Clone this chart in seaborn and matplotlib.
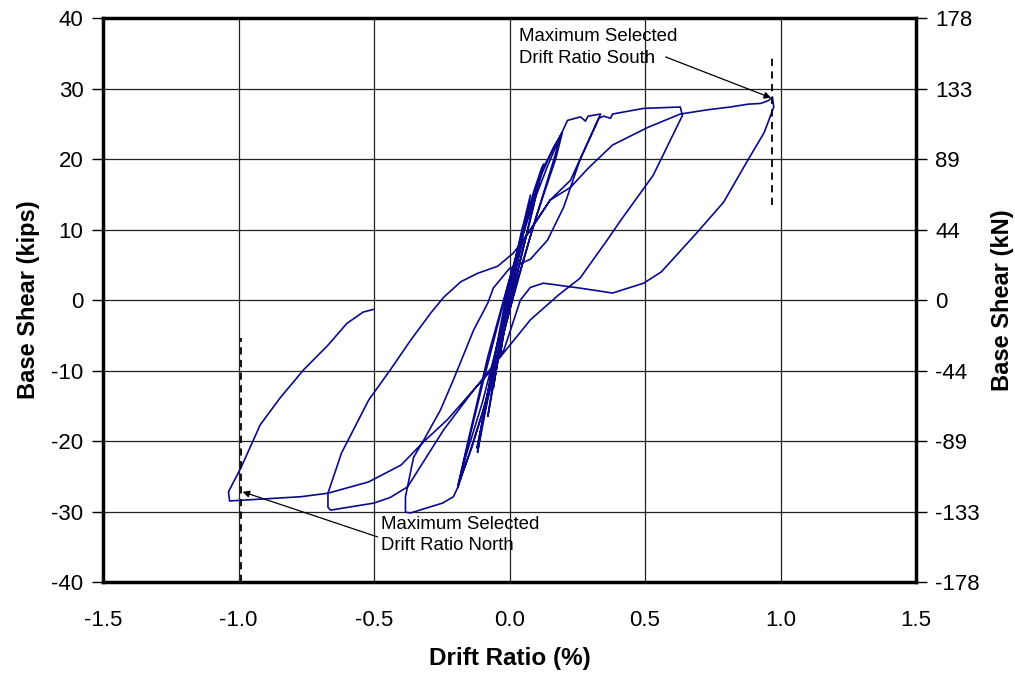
import matplotlib
matplotlib.use("Agg")
import matplotlib.pyplot as plt
import seaborn as sns
import pandas as pd

# Hysteresis response, traced in order of loading (drift in %, base shear in kips)

# small elastic cycles
elastic_drift = [0.0, 0.03, 0.0, -0.035, -0.01,
                 0.02, 0.05, 0.01, -0.03, -0.06, -0.03,
                 0.0, 0.04, 0.077, 0.05, 0.0, -0.04, -0.08, -0.05,
                 0.0, 0.05, 0.09, 0.12, 0.09, 0.03, -0.03, -0.08, -0.118, -0.09,
                 -0.02, 0.04, 0.09, 0.125, 0.085, 0.02, -0.04, -0.09, -0.12, -0.085,
                 -0.01, 0.06, 0.12, 0.16, 0.195, 0.17, 0.1, 0.03, -0.04, -0.1, -0.15, -0.19, -0.16,
                 -0.1, -0.02, 0.06, 0.12, 0.19, 0.16, 0.08, 0.0, -0.08, -0.14, -0.19, -0.15, -0.08]
elastic_shear = [0.0, 6.0, 1.0, -8.0, -2.0,
                 4.0, 10.5, 2.5, -5.0, -12.5, -5.5,
                 2.0, 9.0, 14.9, 9.5, 0.0, -8.0, -16.5, -9.0,
                 1.0, 10.0, 15.5, 18.9, 13.5, 4.0, -6.0, -14.0, -21.6, -15.0,
                 -1.0, 8.5, 15.0, 19.3, 13.0, 2.5, -7.0, -15.5, -21.0, -14.0,
                 0.0, 11.0, 18.0, 21.5, 23.8, 20.0, 12.0, 3.0, -7.5, -16.0, -22.0, -26.5, -21.5,
                 -12.0, 0.0, 11.5, 18.5, 23.5, 19.5, 9.5, -1.5, -13.5, -21.0, -26.2, -19.5, -8.0]

# cycle to about 0.35 % drift
cycle35_drift = [0.0, 0.08, 0.14, 0.19, 0.214, 0.262, 0.28, 0.29, 0.336,
                 0.225, 0.15, 0.05, -0.03, -0.1, -0.16, -0.19, -0.207, -0.247, -0.365, -0.384,
                 -0.384, -0.354, -0.317, -0.255, -0.207, -0.133, -0.08, -0.06, 0.0, 0.077,
                 0.14, 0.2, 0.26, 0.33]
cycle35_shear = [3.0, 13.0, 19.0, 23.5, 25.5, 26.0, 25.4, 26.1, 26.4,
                 17.0, 14.2, 8.5, -4.0, -14.5, -22.0, -26.5, -27.9, -28.8, -30.2, -30.1,
                 -27.9, -22.3, -19.9, -15.6, -11.3, -4.3, -0.4, 1.7, 4.5, 5.8,
                 8.5, 13.2, 19.9, 25.8]

# cycle to about 0.63 % drift
cycle63_drift = [0.347, 0.373, 0.38, 0.494, 0.63, 0.638,
                 0.53, 0.41, 0.36, 0.26, 0.18, 0.077, -0.022, -0.133, -0.243, -0.376,
                 -0.44, -0.5, -0.66, -0.67, -0.67,
                 -0.62, -0.52, -0.44, -0.365, -0.29, -0.243, -0.18, -0.118, -0.044, 0.015,
                 0.077, 0.15, 0.225, 0.29, 0.38, 0.51, 0.63]
cycle63_shear = [26.1, 25.8, 26.4, 27.2, 27.4, 26.2,
                 17.7, 11.3, 8.5, 3.1, 0.7, -2.8, -7.5, -12.8, -18.4, -26.5,
                 -28.0, -28.8, -29.8, -29.4, -27.4,
                 -21.7, -14.2, -9.9, -5.7, -1.8, 0.4, 2.6, 3.8, 4.8, 6.7,
                 9.9, 14.2, 16.0, 18.7, 22.0, 24.5, 26.4]

# cycle to about 1.0 % drift and final unloading
cycle100_drift = [0.73, 0.815, 0.88, 0.926, 0.955, 0.97, 0.975,
                  0.94, 0.88, 0.79, 0.69, 0.56, 0.495, 0.38, 0.26, 0.125, 0.077, 0.04,
                  0.01, -0.02, -0.08, -0.15, -0.23, -0.317, -0.4, -0.52, -0.67, -0.77,
                  -0.99, -1.033, -1.037,
                  -0.99, -0.92, -0.845, -0.76, -0.67, -0.6, -0.54, -0.5]
cycle100_shear = [27.0, 27.4, 27.8, 27.9, 28.3, 28.8, 27.4,
                  23.8, 19.9, 13.9, 9.5, 4.0, 2.4, 1.0, 1.7, 2.4, 1.8, 0.0,
                  -3.5, -7.0, -10.5, -13.5, -17.0, -20.1, -23.4, -25.8, -27.4, -27.9,
                  -28.4, -28.5, -27.2,
                  -23.7, -17.7, -13.8, -9.9, -6.4, -3.3, -1.7, -1.3]

kips_ticks = [-40, -30, -20, -10, 0, 10, 20, 30, 40]
kn_labels = ["-178", "-133", "-89", "-44", "0", "44", "89", "133", "178"]
drift_ticks = [-1.5, -1.0, -0.5, 0.0, 0.5, 1.0, 1.5]

south_drift = 0.97
south_span = [13.5, 34.5]
north_drift = -0.99
north_span = [-40.0, -5.4]

drift = elastic_drift + cycle35_drift + cycle63_drift + cycle100_drift
shear = elastic_shear + cycle35_shear + cycle63_shear + cycle100_shear
df = pd.DataFrame({"drift": drift, "shear": shear, "step": range(len(drift))})

sns.set_theme(style="white")
plt.rcParams["font.family"] = ["Liberation Sans", "DejaVu Sans"]
plt.rcParams["axes.unicode_minus"] = False

fig = plt.figure(figsize=(10.15, 6.74), dpi=100)
ax = fig.add_axes([0.1015, 0.1365, 0.801, 0.8365])

sns.lineplot(data=df, x="drift", y="shear", sort=False, estimator=None,
             color="#0a0a8a", linewidth=1.2, ax=ax)

ax.set_xlim(-1.5, 1.5)
ax.set_ylim(-40, 40)
ax.set_xticks(drift_ticks)
ax.set_xticklabels([f"{t:.1f}" for t in drift_ticks])
ax.set_yticks(kips_ticks)
ax.grid(True, color="#222222", linewidth=0.9)
ax.set_axisbelow(True)

for s in ax.spines.values():
    s.set_color("black")
    s.set_linewidth(2.5)

ax.tick_params(axis="both", direction="out", length=8, width=1, color="black",
               labelsize=16, labelcolor="black")
ax.tick_params(axis="x", pad=12)
ax.tick_params(axis="y", pad=6)
ax.set_xlabel("Drift Ratio (%)", fontsize=17.5, fontweight="bold", labelpad=12, color="black")
ax.set_ylabel("Base Shear (kips)", fontsize=17, fontweight="bold", labelpad=8, color="black")

ax2 = ax.twinx()
ax2.set_ylim(-40, 40)
ax2.set_yticks(kips_ticks)
ax2.set_yticklabels(kn_labels)
ax2.tick_params(axis="y", direction="out", length=8, width=1, color="black",
                labelsize=16, labelcolor="black", pad=6)
ax2.set_ylabel("Base Shear (kN)", fontsize=17, fontweight="bold", labelpad=8, color="black")
for s in ax2.spines.values():
    s.set_visible(False)
ax2.grid(False)

# selected drift markers
ax.plot([south_drift, south_drift], south_span, color="black", linewidth=1.3,
        linestyle=(0, (4, 3)))
ax.plot([north_drift, north_drift], north_span, color="black", linewidth=1.3,
        linestyle=(0, (4, 3)))

arrow = dict(arrowstyle="-|>", color="black", lw=0.9, mutation_scale=10,
             shrinkA=0, shrinkB=0)
ax.text(0.035, 38.6, "Maximum Selected\nDrift Ratio South", fontsize=13.4,
        ha="left", va="top", color="black", linespacing=1.35)
ax.annotate("", xy=(0.965, 28.7), xytext=(0.576, 34.5), arrowprops=arrow)
ax.text(-0.474, -30.6, "Maximum Selected\nDrift Ratio North", fontsize=13.4,
        ha="left", va="top", color="black", linespacing=1.35)
ax.annotate("", xy=(-0.985, -27.2), xytext=(-0.487, -33.6), arrowprops=arrow)

fig.savefig("out.png", dpi=100)
